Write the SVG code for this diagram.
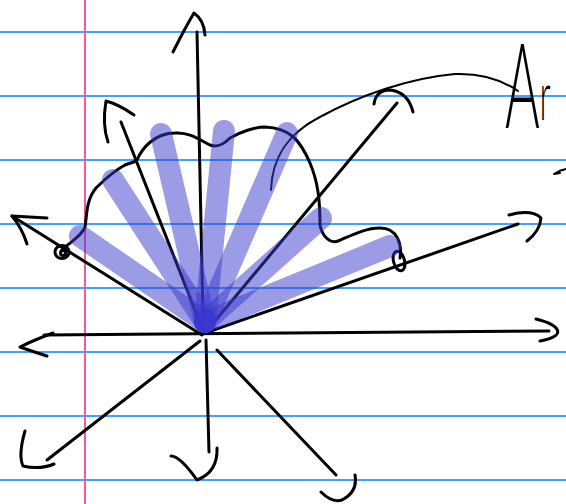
<svg xmlns="http://www.w3.org/2000/svg" width="566" height="504" viewBox="0 0 566 504">
<style>
.rule{stroke:#3fa2ff;stroke-width:2;fill:none}
.margin{stroke:#ee5aa8;stroke-width:2;fill:none}
.ink{stroke:#000;stroke-width:3;fill:none;stroke-linecap:round;stroke-linejoin:round}
.thin{stroke:#000;stroke-width:2;fill:none;stroke-linecap:round;stroke-linejoin:round}
.fan{stroke:#3737cd;stroke-opacity:0.5;stroke-width:22;fill:none;stroke-linecap:round}
</style>
<rect width="566" height="504" fill="#fff"/>
<g id="paper">
<path class="rule" d="M0,32H566M0,96H566M0,160H566M0,224H566M0,288H566M0,352H566M0,416H566M0,480H566"/>
<path class="margin" d="M85,0V504"/>
</g>
<g id="connectors">
<path class="ink" d="M44,335 L549,331"/>
<path class="ink" d="M53,333 Q34,340 20,347 Q34,352 47,356"/>
<path class="ink" d="M536,319 C560,325 568,336 540,341"/>
<path class="ink" d="M197,32 L203,320 M206,340 L209,452"/>
<path class="ink" d="M173,52 Q185,28 194,13 Q204,20 205,35"/>
<path class="ink" d="M171,456 Q180,456 197,480 Q218,472 217,448"/>
<path class="ink" d="M205,333 L397,103"/>
<path class="ink" d="M374,104 Q376,90 390,90 Q408,92 413,112"/>
<path class="ink" d="M205,333 L518,224"/>
<path class="ink" d="M509,215 Q532,209 541,218 Q540,231 527,241"/>
<path class="ink" d="M204,333 L121,122"/>
<path class="ink" d="M108,142 Q102,125 106,101 Q118,104 134,115"/>
<path class="ink" d="M202,335 L12,216"/>
<path class="ink" d="M47,218 L12,216 Q22,228 27,244"/>
<path class="ink" d="M200,341 L47,460"/>
<path class="ink" d="M25,431 Q18,455 23,466 Q40,470 54,464"/>
<path class="ink" d="M217,350 L336,475"/>
<path class="ink" d="M321,492 Q332,503 342,500 Q358,492 355,475"/>
</g>
<g id="wave">
<path class="ink" d="M62,250 C70,242 82,236 85,227 C87,215 86,200 96,188 C104,180 112,172 125,165 C132,162 136,162 137,160 C142,148 155,133 175,133 C190,132 200,140 210,145 C218,148 224,144 230,138 C240,132 255,127 265,127 C290,128 300,140 310,163 C318,182 320,200 320,225 C322,236 330,244 338,241 C350,236 365,228 380,228 C398,228 402,245 400,258"/>
<ellipse class="ink" cx="62" cy="252" rx="7" ry="6.5" stroke-width="4"/>
<ellipse class="ink" cx="63" cy="253" rx="2.5" ry="2.5" stroke-width="2.5"/>
<ellipse class="ink" cx="399" cy="261" rx="5.5" ry="10" stroke-width="3.5" transform="rotate(-15 399 261)"/>
</g>
<g id="arc">
<path class="thin" d="M271,190 C272,160 285,135 320,117 C360,95 410,78 455,74 C485,73 505,82 518,91"/>
</g>
<g id="fan">
<path class="fan" d="M205,322 L80,236"/>
<path class="fan" d="M205,322 L113,180"/>
<path class="fan" d="M205,322 L161,134"/>
<path class="fan" d="M205,322 L224,131"/>
<path class="fan" d="M205,322 L287,133"/>
<path class="fan" d="M205,322 L321,218"/>
<path class="fan" d="M205,322 L390,246"/>
</g>
<g id="label">
<text transform="translate(505,128) scale(0.45,1)" font-family="Lato, 'Liberation Sans', sans-serif" font-weight="300" font-size="118" fill="#000">A<tspan font-size="68" dy="-8">r</tspan></text>
<path class="thin" d="M566,169 Q560,170 554,174 L560,173"/>
</g>
</svg>
